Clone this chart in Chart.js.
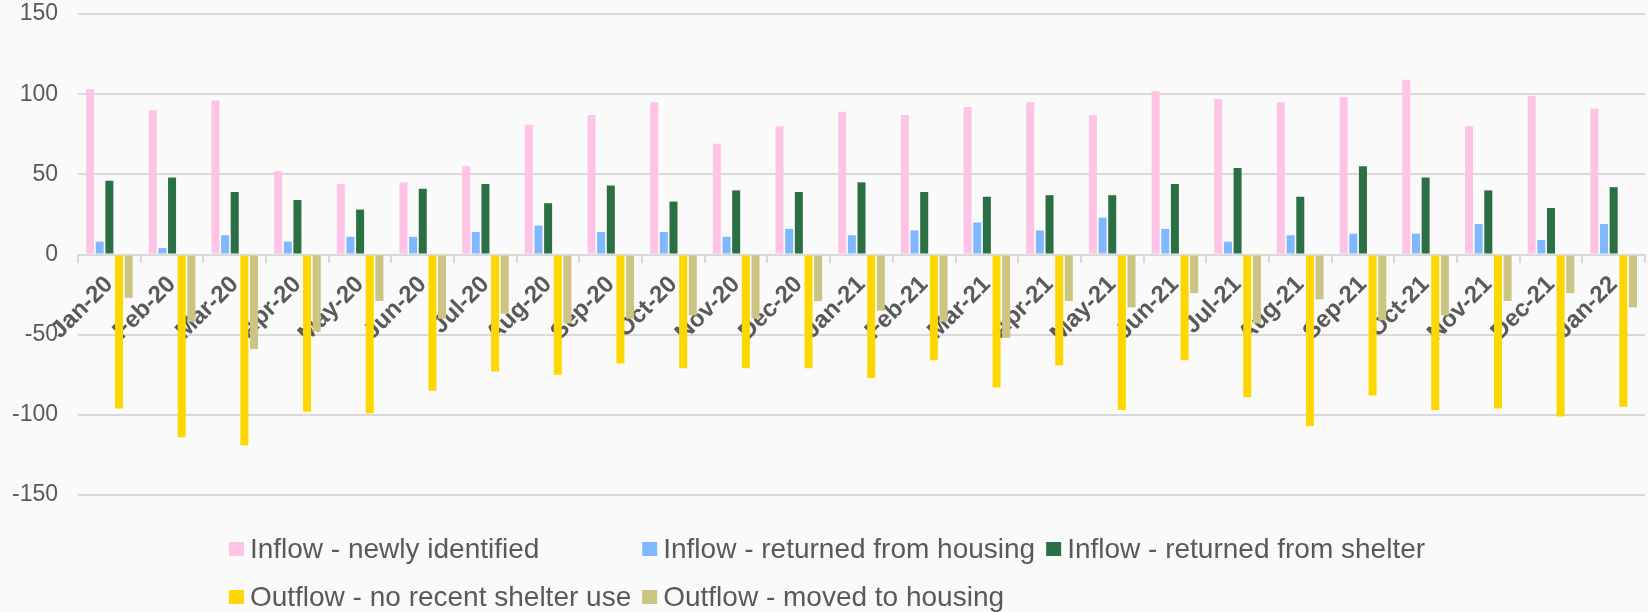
<!DOCTYPE html>
<html>
<head>
<meta charset="utf-8">
<script src="https://cdn.jsdelivr.net/npm/chart.js@4.4.1/dist/chart.umd.min.js"></script>
<style>
  html, body { margin: 0; padding: 0; background: #fafafa; }
  canvas { display: block; }
</style>
</head>
<body>
<canvas id="flows" width="1648" height="612"></canvas>
<script>
// monthly flows
const months = ['Jan-20', 'Feb-20', 'Mar-20', 'Apr-20', 'May-20', 'Jun-20', 'Jul-20', 'Aug-20', 'Sep-20',
  'Oct-20', 'Nov-20', 'Dec-20', 'Jan-21', 'Feb-21', 'Mar-21', 'Apr-21', 'May-21', 'Jun-21', 'Jul-21',
  'Aug-21', 'Sep-21', 'Oct-21', 'Nov-21', 'Dec-21', 'Jan-22'];

const newlyIdentified = [103, 90, 96, 52, 44, 45, 55, 81, 87, 95, 69, 80, 89, 87, 92, 95, 87, 102, 97, 95, 98, 109, 80, 99, 91];
const returnedHousing = [8, 4, 12, 8, 11, 11, 14, 18, 14, 14, 11, 16, 12, 15, 20, 15, 23, 16, 8, 12, 13, 13, 19, 9, 19];
const returnedShelter = [46, 48, 39, 34, 28, 41, 44, 32, 43, 33, 40, 39, 45, 39, 36, 37, 37, 44, 54, 36, 55, 48, 40, 29, 42];
const noRecentShelter = [-96, -114, -119, -98, -99, -85, -73, -75, -68, -71, -71, -71, -77, -66, -83, -69, -97, -66, -89, -107, -88, -97, -96, -101, -95];
const movedHousing = [-27, -42, -59, -48, -29, -40, -37, -43, -40, -38, -40, -29, -35, -42, -52, -29, -33, -24, -43, -28, -41, -38, -29, -24, -33];

const yTicks = [-150, -100, -50, 0, 50, 100, 150];

const FONT = '"Liberation Sans", Arial, sans-serif';
const TXT = '#595959';
const GRID = '#d9d9d9';

Chart.defaults.font.family = FONT;

const serie = (label, data, color) => ({ label, data, backgroundColor: color, borderWidth: 0 });

// Excel-style legend: fixed columns, rows of three, block centred under the chart
const legendaColumnas = {
  id: 'legendaColumnas',
  afterDraw(chart) {
    const ctx = chart.ctx;
    const ds = chart.data.datasets;
    const cols = 3, boxW = 15, boxH = 14, gap = 6, colGap = 11;
    ctx.save();
    ctx.font = `28px ${FONT}`;
    const widths = ds.map((d) => ctx.measureText(d.label).width);
    const colW = [];
    for (let c = 0; c < cols; c++) {
      let m = 0;
      for (let i = c; i < ds.length; i += cols) m = Math.max(m, widths[i]);
      colW.push(boxW + gap + m + (c < cols - 1 ? colGap : 0));
    }
    const total = colW.reduce((a, b) => a + b, 0);
    const x0 = (chart.width - total) / 2 + 3;
    const rowY = [chart.height - 63, chart.height - 15];
    ctx.textBaseline = 'middle';
    ds.forEach((d, i) => {
      const c = i % cols, r = Math.floor(i / cols);
      const x = x0 + colW.slice(0, c).reduce((a, b) => a + b, 0);
      const y = rowY[r];
      ctx.fillStyle = d.backgroundColor;
      ctx.fillRect(x, y - boxH / 2, boxW, boxH);
      ctx.fillStyle = TXT;
      ctx.fillText(d.label, x + boxW + gap, y + 1);
    });
    ctx.restore();
  },
};

const fondo = {
  id: 'fondo',
  beforeDraw(chart) {
    const ctx = chart.ctx;
    ctx.save();
    ctx.fillStyle = '#fafafa';
    ctx.fillRect(0, 0, chart.width, chart.height);
    ctx.restore();
  },
};

new Chart(document.getElementById('flows'), {
  type: 'bar',
  data: {
    labels: months,
    datasets: [
      serie('Inflow - newly identified', newlyIdentified, '#ffc3e6'),
      serie('Inflow - returned from housing', returnedHousing, '#80b8ff'),
      serie('Inflow - returned from shelter', returnedShelter, '#2b7044'),
      serie('Outflow - no recent shelter use', noRecentShelter, '#ffd700'),
      serie('Outflow - moved to housing', movedHousing, '#ccc482'),
    ],
  },
  options: {
    responsive: false,
    animation: false,
    datasets: { bar: { categoryPercentage: 0.77, barPercentage: 0.83 } },
    layout: { padding: { left: 12, right: 3, top: 14, bottom: 117 } },
    plugins: { legend: { display: false }, tooltip: { enabled: false } },
    scales: {
      x: {
        position: { y: 0 },
        offset: true,
        // labels hang off the zero line, so the axis takes no room of its own
        afterFit: (s) => { s.height = 0; s.paddingLeft = 0; s.paddingRight = 0; },
        grid: { drawOnChartArea: false, drawTicks: true, tickLength: 7, color: GRID, lineWidth: 2 },
        border: { color: GRID, width: 2 },
        ticks: {
          color: TXT,
          font: { size: 24, weight: 'bold' },
          minRotation: 45,
          maxRotation: 45,
          autoSkip: false,
          padding: 9,
        },
      },
      y: {
        min: yTicks[0],
        max: yTicks[yTicks.length - 1],
        afterBuildTicks: (s) => { s.ticks = yTicks.map((v) => ({ value: v })); },
        grid: { color: GRID, lineWidth: 2, drawTicks: true, tickLength: 20, tickColor: 'rgba(0,0,0,0)' },
        border: { display: false },
        ticks: { color: TXT, font: { size: 23 }, padding: 0 },
      },
    },
  },
  plugins: [fondo, legendaColumnas],
});
</script>
</body>
</html>
